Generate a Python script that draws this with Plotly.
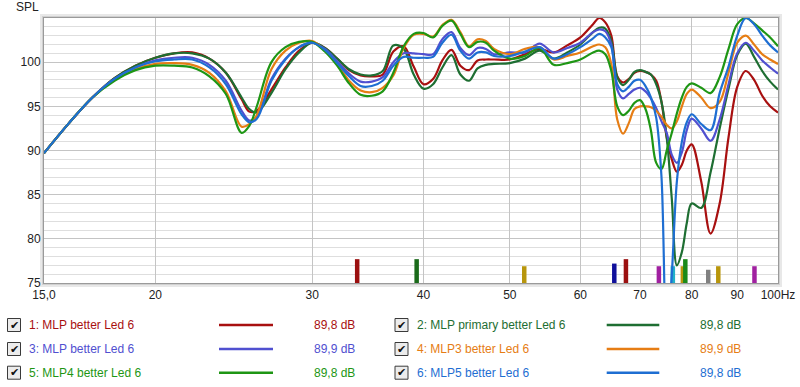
import numpy as np
import plotly.graph_objects as go

# ---------------- data ----------------
freqs = [15, 16, 17, 18, 19, 20, 21, 22, 23, 24, 25, 25.5, 26, 27, 28, 29, 30, 31, 32, 33, 34, 35, 36,
         37, 38, 39, 40, 41, 42, 43, 44, 45, 46, 47, 48, 50, 52, 54, 56, 58, 60, 62, 63, 64, 65, 66,
         67, 68, 69, 70, 71, 72, 73, 74, 75, 76, 77, 78, 79, 80, 82, 84, 86, 88, 90, 92, 94, 96, 98, 100]

spl_1 = [89.7, 93.1, 96.0, 98.2, 99.6, 100.5, 101.0, 101.1, 100.4, 98.8, 95.8, 94.4, 94.5, 96.9, 99.4,
         101.3, 102.2, 101.6, 100.4, 99.1, 98.5, 98.4, 98.6, 101.2, 101.8, 99.5, 97.5, 98.1, 100.2,
         101.4, 99.6, 99.1, 100.2, 100.3, 100.3, 100.3, 100.9, 101.5, 101.1, 101.9, 102.8, 104.3, 105.0,
         104.5, 103.0, 98.4, 97.7, 98.1, 98.8, 99.0, 98.9, 98.6, 97.9, 95.5, 91.5, 89.0, 87.6, 88.4,
         90.0, 90.7, 86.5, 80.6, 84.0, 91.5, 97.2, 99.0, 98.0, 96.2, 95.0, 94.3]
spl_2 = [89.7, 93.1, 96.0, 98.2, 99.6, 100.5, 101.0, 101.0, 100.4, 98.8, 96.0, 94.7, 94.3, 96.5, 99.2,
         101.1, 102.2, 101.6, 100.4, 99.2, 98.6, 98.5, 99.0, 101.9, 101.5, 98.6, 97.0, 97.5, 99.4,
         100.8, 98.6, 97.9, 99.3, 99.7, 99.8, 99.9, 100.4, 101.3, 100.4, 101.1, 102.0, 103.4, 103.9,
         103.8, 102.4, 98.3, 97.4, 98.0, 98.9, 99.1, 98.9, 98.6, 97.5, 95.5, 91.5, 84.5, 77.0, 78.5,
         81.8, 84.0, 83.5, 87.5, 92.5, 97.0, 100.8, 102.1, 100.6, 99.0, 97.8, 96.9]
spl_3 = [89.7, 93.1, 96.0, 98.1, 99.4, 100.2, 100.5, 100.5, 99.7, 97.9, 94.5, 93.4, 93.8, 98.1, 100.4,
         101.7, 102.2, 101.5, 100.1, 98.7, 97.8, 97.8, 98.3, 100.0, 101.0, 101.0, 100.9, 100.9, 102.6,
         103.4, 101.6, 100.8, 101.6, 101.5, 100.9, 101.1, 101.1, 102.1, 101.1, 101.6, 102.2, 103.4,
         103.7, 103.5, 102.0, 96.9, 95.9, 96.4, 96.9, 97.1, 96.7, 95.9, 94.8, 93.3, 92.0, 89.5, 88.6,
         89.8, 92.3, 93.6, 92.5, 91.1, 93.5, 97.5, 101.0, 102.2, 101.3, 100.2, 99.4, 98.7]
spl_4 = [89.7, 93.1, 96.0, 98.0, 99.2, 99.8, 99.9, 99.7, 98.8, 96.7, 92.7, 93.0, 94.0, 99.2, 101.3,
         102.2, 102.4, 101.3, 99.8, 97.9, 96.8, 96.6, 97.1, 98.5, 101.6, 103.1, 103.2, 102.9, 104.2,
         104.8, 103.4, 101.8, 102.6, 102.4, 101.5, 100.9, 101.5, 101.7, 100.3, 100.7, 101.1, 101.8,
         102.0, 101.7, 99.8, 93.5, 91.9, 93.1, 94.7, 95.0, 95.0, 94.9, 94.5, 93.8, 92.9, 92.5, 93.3,
         95.0, 96.4, 96.9, 96.0, 94.8, 95.5, 98.8, 102.2, 103.0, 102.0, 100.9, 100.3, 99.8]
spl_5 = [89.7, 93.1, 96.0, 97.9, 99.1, 99.6, 99.6, 99.4, 98.4, 96.4, 92.0, 92.8, 95.0, 100.0, 101.7,
         102.3, 102.3, 101.2, 99.6, 97.6, 96.3, 96.2, 96.7, 98.8, 101.8, 103.2, 103.3, 102.8, 104.1,
         104.7, 103.2, 101.7, 102.3, 102.2, 101.3, 100.4, 100.7, 101.6, 99.7, 99.9, 100.3, 101.1,
         101.3, 100.9, 99.0, 95.0, 94.0, 94.5, 95.4, 95.7, 94.7, 92.3, 88.6, 87.9, 90.0, 92.0, 94.2,
         96.0, 97.2, 97.6, 97.1, 96.5, 98.3, 101.5, 104.3, 105.0, 104.4, 103.6, 102.8, 101.8]
spl_6 = [89.7, 93.1, 96.0, 98.1, 99.4, 100.1, 100.3, 100.3, 99.4, 97.5, 94.1, 93.2, 93.6, 97.9, 100.3,
         101.7, 102.2, 101.4, 99.9, 98.4, 97.3, 97.3, 97.9, 99.6, 100.6, 100.5, 100.5, 100.6, 102.2,
         103.1, 101.3, 100.4, 101.1, 101.1, 100.7, 100.7, 101.2, 101.7, 100.4, 100.9, 101.7, 102.7,
         103.2, 102.8, 101.7, 97.5, 96.7, 97.2, 97.9, 98.0, 97.3, 96.0, 93.7, 87.0, 68.0, 76.0, 86.5,
         91.0, 93.2, 94.1, 93.0, 92.3, 96.5, 99.5, 103.0, 105.0, 104.3, 103.0, 101.9, 101.1]

series_names = ["1: MLP better Led 6", "2: MLP primary better Led 6", "3: MLP better Led 6",
                "4: MLP3 better Led 6", "5: MLP4 better Led 6", "6: MLP5 better Led 6"]
series_levels = ["89,8 dB", "89,8 dB", "89,9 dB", "89,9 dB", "89,8 dB", "89,8 dB"]
series_colors = ["#a81010", "#1e6e32", "#5050d0", "#e67d14", "#1e9614", "#1e6ed2"]
series_values = [spl_1, spl_2, spl_3, spl_4, spl_5, spl_6]

marker_freqs = [33.7, 39.3, 51.9, 65.5, 67.5, 73.5, 76.2, 78.2, 78.7, 83.5, 85.7, 94.1]
marker_tops = [77.7, 77.7, 76.9, 77.2, 77.7, 76.9, 76.9, 76.9, 77.7, 76.5, 76.9, 76.9]
marker_colors = ["#9b1010", "#1a6a1a", "#b8960c", "#10109b", "#9b1010", "#a020a0", "#20b0c8",
                 "#b8960c", "#1a8a1a", "#808080", "#b8960c", "#a020a0"]

x_tick_vals = [15, 20, 30, 40, 50, 60, 70, 80, 90, 100]
x_tick_text = ["15,0", "20", "30", "40", "50", "60", "70", "80", "90", "100Hz"]
y_tick_vals = [75, 80, 85, 90, 95, 100]
y_minor_vals = [v for v in range(76, 105) if v % 5 != 0]

# ---------------- layout helpers ----------------
W, H = 800, 387
L, R, T, B = 44, 778, 18, 283


def px(x):
    return (x - L) / (R - L)


def py(y):
    return (B - y) / (B - T)


fig = go.Figure()

# marker bars
for f, top, c in zip(marker_freqs, marker_tops, marker_colors):
    fig.add_trace(go.Scatter(x=[f, f], y=[74.5, top], mode="lines",
                             line=dict(color=c, width=4.5), hoverinfo="skip", showlegend=False))

# curves
for vals, c, n in zip(series_values, series_colors, series_names):
    fig.add_trace(go.Scatter(x=freqs, y=vals, mode="lines", name=n,
                             line=dict(color=c, width=2.2, shape="spline", smoothing=1.0),
                             showlegend=False))

font_main = "Liberation Sans, Arial, sans-serif"

fig.update_layout(
    width=W, height=H,
    margin=dict(l=L, r=W - R, t=T, b=H - B, autoexpand=False),
    paper_bgcolor="white", plot_bgcolor="white",
    font=dict(family=font_main, size=12, color="#222"),
    xaxis=dict(type="log", range=[np.log10(15), 2], tickmode="array",
               tickvals=x_tick_vals, ticktext=x_tick_text, showgrid=True,
               gridcolor="#c4c4c4", gridwidth=1, showline=True, mirror=True,
               linecolor="#9a9a9a", linewidth=1, zeroline=False, ticks="",
               automargin=False, ticklabelstandoff=1,
               tickfont=dict(family=font_main, size=12, color="#222")),
    yaxis=dict(range=[75, 105], tickmode="array", tickvals=y_tick_vals,
               showgrid=True, gridcolor="#c4c4c4", gridwidth=1,
               minor=dict(tickmode="array", tickvals=y_minor_vals, showgrid=True,
                          gridcolor="#dedede", gridwidth=1, ticks=""),
               showline=True, mirror=True, linecolor="#9a9a9a", linewidth=1,
               zeroline=False, ticks="", automargin=False,
               tickfont=dict(family=font_main, size=12, color="#222")),
)

shapes = []
annotations = []

# frame shadow
shadow = [("#d0d0d0", 0, 2), ("#e8e8e8", 2, 4)]
for col, a, b in shadow:
    shapes.append(dict(type="rect", xref="paper", yref="paper", layer="below",
                       x0=px(L - b), x1=px(L - a), y0=py(B + b), y1=py(T - b),
                       fillcolor=col, line=dict(width=0)))
    shapes.append(dict(type="rect", xref="paper", yref="paper", layer="below",
                       x0=px(L - b), x1=px(R + b), y0=py(T - a), y1=py(T - b),
                       fillcolor=col, line=dict(width=0)))
    shapes.append(dict(type="rect", xref="paper", yref="paper", layer="below",
                       x0=px(R + a), x1=px(R + b), y0=py(B + b), y1=py(T - b),
                       fillcolor=col, line=dict(width=0)))
    shapes.append(dict(type="rect", xref="paper", yref="paper", layer="below",
                       x0=px(L - b), x1=px(R + b), y0=py(B + b), y1=py(B + a),
                       fillcolor=col, line=dict(width=0)))

annotations.append(dict(text="SPL", xref="paper", yref="paper", x=px(27), y=py(7),
                        xanchor="center", yanchor="middle", showarrow=False,
                        font=dict(family=font_main, size=12, color="#222")))

# legend
row_y = [325, 349, 372.7]
cols = [dict(box=(7.5, 20.5), text=27, line=(219, 273), val=356.7),
        dict(box=(395, 408), text=415, line=(606.7, 659.3), val=743.3)]
for i, (n, lv, c) in enumerate(zip(series_names, series_levels, series_colors)):
    cl = cols[i % 2]
    yc = row_y[i // 2]
    shapes.append(dict(type="rect", xref="paper", yref="paper",
                       x0=px(cl["box"][0]), x1=px(cl["box"][1]),
                       y0=py(yc + 6.5), y1=py(yc - 6.5),
                       fillcolor="#ececec", line=dict(color="#3a3a3a", width=1)))
    annotations.append(dict(text="✔", xref="paper", yref="paper",
                            x=px((cl["box"][0] + cl["box"][1]) / 2), y=py(yc),
                            xanchor="center", yanchor="middle", showarrow=False,
                            font=dict(family="DejaVu Sans", size=11, color="#111")))
    annotations.append(dict(text=n, xref="paper", yref="paper", x=px(cl["text"]), y=py(yc),
                            xanchor="left", yanchor="middle", showarrow=False,
                            font=dict(family=font_main, size=12, color=c)))
    shapes.append(dict(type="line", xref="paper", yref="paper",
                       x0=px(cl["line"][0]), x1=px(cl["line"][1]), y0=py(yc), y1=py(yc),
                       line=dict(color=c, width=2.5)))
    annotations.append(dict(text=lv, xref="paper", yref="paper", x=px(cl["val"]), y=py(yc),
                            xanchor="right", yanchor="middle", showarrow=False,
                            font=dict(family=font_main, size=12, color=c)))

fig.update_layout(shapes=shapes, annotations=annotations)

fig.write_html("out.html", config={"displayModeBar": False},
               post_script="document.body.style.margin='0';document.body.style.overflow='hidden';")
